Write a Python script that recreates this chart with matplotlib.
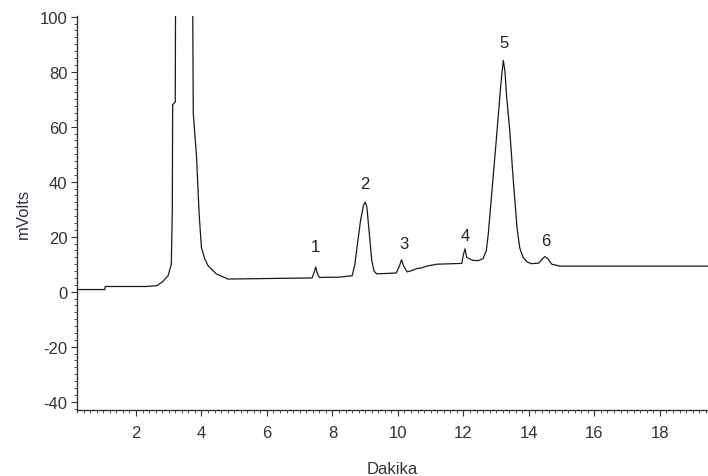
import matplotlib.pyplot as plt
from matplotlib.ticker import MultipleLocator

# trace points (time in min, signal in mV)
time_min = [0.20, 1.05, 1.06, 2.30, 2.64, 2.80, 2.98, 3.08, 3.11, 3.12, 3.20, 3.21,
            3.45,
            3.73, 3.75, 3.85, 3.93, 4.00, 4.10, 4.20, 4.45, 4.81,
            6.00, 7.38, 7.44, 7.49, 7.54, 7.60,
            8.20, 8.60, 8.68, 8.76, 8.86, 8.95, 9.00, 9.05, 9.12, 9.20, 9.27, 9.35,
            9.95, 10.05, 10.11, 10.17, 10.28, 10.45, 10.57, 10.70, 10.88, 11.18,
            11.95, 12.00, 12.05, 12.10, 12.29, 12.45, 12.60, 12.70, 12.76,
            12.91, 13.01, 13.12, 13.18, 13.22, 13.27, 13.32, 13.42, 13.52, 13.64, 13.72, 13.82,
            13.95, 14.08, 14.30, 14.40, 14.49, 14.58, 14.70, 14.95, 19.50]
signal_mv = [0.8, 0.8, 1.9, 1.9, 2.2, 3.5, 5.8, 10, 30, 68, 69, 110,
             400,
             110, 65, 49, 28, 16, 12, 9.5, 6.5, 4.6,
             4.8, 5.0, 7.0, 9.0, 6.5, 5.2,
             5.3, 5.8, 9.5, 17, 26, 31.5, 32.6, 31, 22, 11.5, 7.5, 6.5,
             6.8, 9.5, 11.6, 9.5, 7.2, 7.8, 8.4, 8.6, 9.3, 10,
             10.3, 13.5, 15.6, 12.5, 11.4, 11.3, 12, 15, 21,
             42, 56, 72, 80, 84.1, 80, 71, 58, 41, 23, 16, 12.5,
             10.8, 10.2, 10.4, 11.8, 12.8, 12.0, 10.0, 9.3, 9.3]

# peak numbers and where they are written
peak_labels = ["1", "2", "3", "4", "5", "6"]
label_x = [7.47, 9.00, 10.18, 12.07, 13.25, 14.52]
label_y = [16.5, 39.5, 17.5, 20.5, 90.5, 18.5]

plt.rcParams['font.family'] = ['Liberation Sans', 'DejaVu Sans']
plt.rcParams['axes.unicode_minus'] = False

fig = plt.figure(figsize=(7.08, 4.77), dpi=100)
ax = fig.add_axes([0.1088, 0.1384, 0.8912, 0.8262])

ax.plot(time_min, signal_mv, color='#1a1a1a', linewidth=0.9)
for lab, x, y in zip(peak_labels, label_x, label_y):
    ax.text(x, y, lab, ha='center', va='center', fontsize=12, color='#222222')

ax.set_xlim(0.20, 19.47)
ax.set_ylim(-43, 100.3)
ax.xaxis.set_major_locator(MultipleLocator(2))
ax.xaxis.set_minor_locator(MultipleLocator(0.2))
ax.yaxis.set_major_locator(MultipleLocator(20))
ax.yaxis.set_minor_locator(MultipleLocator(2.5))

for side in ['top', 'right']:
    ax.spines[side].set_visible(False)
for side in ['left', 'bottom']:
    ax.spines[side].set_color('#333333')
    ax.spines[side].set_linewidth(1.0)

ax.tick_params(which='major', length=4, width=0.8, colors='#333333', labelsize=12)
ax.tick_params(axis='x', which='major', pad=7)
ax.tick_params(axis='y', which='major', pad=3)
ax.tick_params(which='minor', length=2, width=0.6, colors='#333333')

ax.set_xlabel("Dakika", fontsize=12, color='#333333', labelpad=15)
ax.set_ylabel("mVolts", fontsize=12, color='#333344', labelpad=6)

fig.savefig("out.png", dpi=100)
